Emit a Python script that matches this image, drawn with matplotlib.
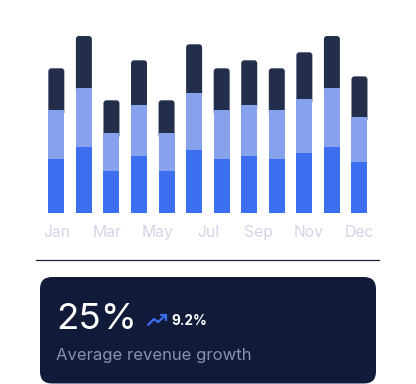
import numpy as np
import matplotlib.pyplot as plt
from matplotlib.patches import FancyBboxPatch

plt.rcParams['font.family'] = ['Inter', 'DejaVu Sans']

months = ['Jan', 'Feb', 'Mar', 'Apr', 'May', 'Jun', 'Jul', 'Aug', 'Sep', 'Oct', 'Nov', 'Dec']
tick_labels = ['Jan', 'Mar', 'May', 'Jul', 'Sep', 'Nov', 'Dec']
# segment heights (bottom -> top)
seg_blue = np.array([54.3, 66.3, 42.3, 57.3, 42.3, 63.3, 54.3, 57.3, 54.3, 60.3, 66.3, 51.3])
seg_light = np.array([48.7, 59.0, 37.7, 51.0, 37.7, 56.7, 48.7, 51.0, 48.7, 53.7, 59.0, 45.3])
seg_dark = np.array([42.0, 52.0, 33.0, 44.7, 33.0, 49.0, 42.0, 44.7, 42.0, 47.0, 52.0, 40.3])
headline = '25%'
change = '9.2%'
caption = 'Average revenue growth'

W, H = 416, 384
fig = plt.figure(figsize=(W / 100, H / 100), dpi=100)
fig.patch.set_facecolor('white')

# bar chart axes, placed in pixel units
left, right, top, bottom = 39.8, 376.0, 30.0, 213.3
ax = fig.add_axes([left / W, 1 - bottom / H, (right - left) / W, (bottom - top) / H])
x = np.arange(len(months))
bw = 0.58
ax.bar(x, seg_blue, width=bw, color='#3b6ff0', zorder=3)
ax.bar(x, seg_light, width=bw, bottom=seg_blue, color='#86a2ec', zorder=3)
dark = ax.bar(x, seg_dark, width=bw, bottom=seg_blue + seg_light, color='#232e4b', zorder=2)
ax.set_xlim(-0.6, 11.6)
ax.set_ylim(0, bottom - top)

# rounded tops
px_per_x = (right - left) / 12.2
for r in list(dark.patches):
    x0, y0, w, h = r.get_x(), r.get_y(), r.get_width(), r.get_height()
    r.remove()
    rs = 3.0 / px_per_x
    ax.add_patch(FancyBboxPatch((x0, y0 - 5), w, h + 5,
                                boxstyle=f'round,pad=0,rounding_size={rs}',
                                mutation_aspect=px_per_x, fc='#232e4b', ec='none', zorder=2))

# labels are spread evenly from the first to the last bar
ax.set_xticks(np.linspace(0, len(months) - 1, len(tick_labels)), tick_labels)
ax.tick_params(axis='x', length=0, pad=8.5, labelsize=11.3, labelcolor='#d3d5e6')
ax.set_yticks([])
for s in ax.spines.values():
    s.set_visible(False)

# overlay in pixel coords for the divider and summary card
ov = fig.add_axes([0, 0, 1, 1])
ov.set_xlim(0, W)
ov.set_ylim(H, 0)
ov.axis('off')
ov.patch.set_alpha(0)
ov.plot([36, 379], [260, 260], color='#1d2340', lw=0.9)
ov.add_patch(FancyBboxPatch((40, 277), 336, 106.5,
                            boxstyle='round,pad=0,rounding_size=12',
                            fc='#121a3a', ec='none'))
ov.text(56, 329, headline, color='white', fontsize=26.5, va='baseline', ha='left')
ov.plot([148, 154, 158, 166], [325, 319, 322, 315], color='#3b6ff0', lw=1.6,
        solid_capstyle='round', solid_joinstyle='round')
ov.plot([161, 166, 166], [315, 315, 320], color='#3b6ff0', lw=1.6,
        solid_capstyle='round', solid_joinstyle='round')
ov.text(171.5, 325, change, color='white', fontsize=9.8, fontweight='bold', va='baseline', ha='left')
ov.text(56.5, 360, caption, color='#8b90ab', fontsize=12, va='baseline', ha='left')

fig.savefig('out.png', dpi=100)
